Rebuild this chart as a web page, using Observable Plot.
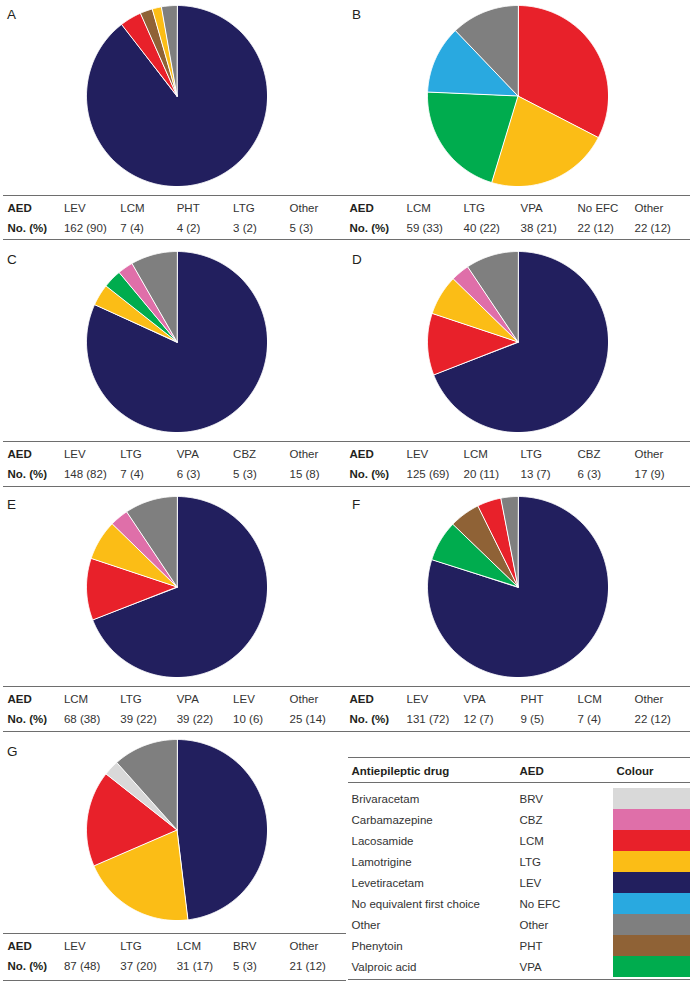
<!DOCTYPE html>
<html>
<head>
<meta charset="utf-8">
<script src="https://cdn.jsdelivr.net/npm/d3@7"></script>
<script src="https://cdn.jsdelivr.net/npm/@observablehq/plot@0.6"></script>
<style>
html,body{margin:0;padding:0;background:#fff;}
#page{position:relative;width:690px;height:982px;font-family:"Liberation Sans",Arial,Helvetica,sans-serif;color:#231f20;overflow:hidden;background:#fff;}
.abs{position:absolute;}
.hline{position:absolute;height:0;border-top:1.5px solid #6e6e6e;}
.letter{position:absolute;font-size:13.5px;line-height:1;}
</style>
</head>
<body>
<div id="page"></div>
<script>
// ---------------- DATA ----------------
const drugNames = ["Brivaracetam","Carbamazepine","Lacosamide","Lamotrigine","Levetiracetam","No equivalent first choice","Other","Phenytoin","Valproic acid"];
const drugAbbr = ["BRV","CBZ","LCM","LTG","LEV","No EFC","Other","PHT","VPA"];
const drugColours = ["#d9d9d9","#df6fa9","#e8212a","#fbbd16","#221f5e","#29a9e0","#7f7f7f","#8f6236","#00ac4e"];

const panelLetters = ["A","B","C","D","E","F","G"];

const aedA = ["LEV","LCM","PHT","LTG","Other"];
const countA = [162,7,4,3,5];
const pctA = [90,4,2,2,3];

const aedB = ["LCM","LTG","VPA","No EFC","Other"];
const countB = [59,40,38,22,22];
const pctB = [33,22,21,12,12];

const aedC = ["LEV","LTG","VPA","CBZ","Other"];
const countC = [148,7,6,5,15];
const pctC = [82,4,3,3,8];

const aedD = ["LEV","LCM","LTG","CBZ","Other"];
const countD = [125,20,13,6,17];
const pctD = [69,11,7,3,9];

const aedE = ["LCM","LTG","VPA","LEV","Other"];
const countE = [68,39,39,10,25];
const pctE = [38,22,22,6,14];

const aedF = ["LEV","VPA","PHT","LCM","Other"];
const countF = [131,12,9,7,22];
const pctF = [72,7,5,4,12];

const aedG = ["LEV","LTG","LCM","BRV","Other"];
const countG = [87,37,31,5,21];
const pctG = [48,20,17,3,12];

// Slices as they are drawn in the figure (pie E shows the D split; pie F has a small grey slice)
const sliceAedE = ["LEV","LCM","LTG","CBZ","Other"];
const sliceValE = [125,20,13,6,17];
const sliceValF = [131,12,9,7,5];

// ---------------- LAYOUT ----------------
const W = 690;
const rowTableTop = [196, 442, 687, 934];
const rowTableBottom = [240, 487, 732, 981];
const rowPieCy = [95, 341.5, 586.5, 829];
const rowLetterY = [15, 260, 505, 752];
const sideX = [0, 345];
const pieCx = [176, 517];
const pieR = 90.5;
const tableColRange = [[7, 289], [4, 289]];
const legendColX = [3, 171, 265, 342];
const legendLeft = 348, legendTop = 758, legendHeaderBottom = 783, legendBottom = 980;
const FONT = '"Liberation Sans", Arial, Helvetica, sans-serif';
const FS = 11.5;
const INK = "#231f20";

const page = document.getElementById("page");
function place(el, left, top) {
  const d = document.createElement("div");
  d.className = "abs";
  d.style.left = left + "px";
  d.style.top = top + "px";
  d.appendChild(el);
  page.appendChild(d);
}
function hline(left, width, y) {
  const d = document.createElement("div");
  d.className = "hline";
  d.style.left = left + "px";
  d.style.width = width + "px";
  d.style.top = (y - 0.75) + "px";
  page.appendChild(d);
}
function letter(t, left, cy) {
  const d = document.createElement("div");
  d.className = "letter";
  d.textContent = t;
  d.style.left = left + "px";
  d.style.top = (cy - 7.5) + "px";
  page.appendChild(d);
}

const colorScale = {type: "ordinal", domain: drugAbbr, range: drugColours};

function piePlot(aeds, values) {
  const arcs = d3.pie().sort(null).value(d => d.v)(aeds.map((a, i) => ({a, v: values[i]})));
  const features = arcs.map(arc => {
    const pts = [[0, 0]];
    const span = arc.endAngle - arc.startAngle;
    const n = Math.max(2, Math.ceil(span / (Math.PI / 360)));
    for (let k = 0; k <= n; k++) {
      const t = arc.startAngle + span * k / n;
      pts.push([Math.sin(t), -Math.cos(t)]);
    }
    pts.push([0, 0]);
    return {type: "Feature", properties: {aed: arc.data.a}, geometry: {type: "Polygon", coordinates: [pts]}};
  });
  const circle = {type: "Polygon", coordinates: [d3.range(0, 361, 1).map(d => [Math.sin(d * Math.PI / 180), -Math.cos(d * Math.PI / 180)])]};
  return Plot.plot({
    width: 2 * pieR, height: 2 * pieR, margin: 0,
    style: {background: "transparent"},
    projection: {type: "identity", domain: circle},
    color: colorScale,
    marks: [Plot.geo(features, {fill: d => d.properties.aed, stroke: "white", strokeWidth: 1})]
  });
}

function tablePlot(aeds, counts, pcts, xRange) {
  const cells = [];
  ["AED", ...aeds].forEach((t, i) => cells.push({col: i, row: "AED", text: t}));
  ["No. (%)", ...counts.map((c, i) => `${c} (${pcts[i]})`)].forEach((t, i) => cells.push({col: i, row: "No. (%)", text: t}));
  return Plot.plot({
    width: 345, height: 44, margin: 0,
    style: {fontFamily: FONT, fontSize: FS + "px", color: INK, background: "transparent"},
    x: {type: "linear", domain: [0, 5], range: xRange, axis: null},
    y: {type: "band", domain: ["AED", "No. (%)"], range: [2, 42], padding: 0, axis: null},
    marks: [
      Plot.text(cells.filter(d => d.col === 0), {x: "col", y: "row", text: "text", textAnchor: "start", fontWeight: "bold", fontSize: FS, fill: INK}),
      Plot.text(cells.filter(d => d.col > 0), {x: "col", y: "row", text: "text", textAnchor: "start", fontSize: FS, fill: "#333"})
    ]
  });
}

const panels = [
  {aed: aedA, count: countA, pct: pctA, sAed: aedA, sVal: countA},
  {aed: aedB, count: countB, pct: pctB, sAed: aedB, sVal: countB},
  {aed: aedC, count: countC, pct: pctC, sAed: aedC, sVal: countC},
  {aed: aedD, count: countD, pct: pctD, sAed: aedD, sVal: countD},
  {aed: aedE, count: countE, pct: pctE, sAed: sliceAedE, sVal: sliceValE},
  {aed: aedF, count: countF, pct: pctF, sAed: aedF, sVal: sliceValF},
  {aed: aedG, count: countG, pct: pctG, sAed: aedG, sVal: countG}
];

panels.forEach((p, i) => {
  const row = Math.floor(i / 2), side = i % 2;
  letter(panelLetters[i], sideX[side] + 7, rowLetterY[row]);
  place(piePlot(p.sAed, p.sVal), pieCx[side] - pieR, rowPieCy[row] - pieR);
  place(tablePlot(p.aed, p.count, p.pct, tableColRange[side]), sideX[side], rowTableTop[row]);
});

// table rules
for (let r = 0; r < 3; r++) {
  hline(3, W - 3, rowTableTop[r]);
  hline(3, W - 3, rowTableBottom[r]);
}
hline(3, 343, rowTableTop[3]);
hline(3, 343, rowTableBottom[3]);

// ---------------- LEGEND TABLE ----------------
const legendX = {type: "linear", domain: [0, 342], range: [0, 342], axis: null};
const headerCells = ["Antiepileptic drug", "AED", "Colour"].map((t, i) => ({text: t, col: i}));
const headerPlot = Plot.plot({
  width: 342, height: legendHeaderBottom - legendTop, margin: 0,
  style: {fontFamily: FONT, fontSize: FS + "px", color: INK, background: "transparent"},
  x: legendX,
  marks: [
    Plot.text(headerCells, {x: d => legendColX[d.col] + (d.col === 2 ? 3 : 0), text: "text", textAnchor: "start", fontWeight: "bold", fontSize: FS, fill: INK})
  ]
});
place(headerPlot, legendLeft, legendTop);

const legendRows = drugNames.map((n, i) => ({name: n, abbr: drugAbbr[i]}));
const bodyTop = legendHeaderBottom + 1;
const bodyPlot = Plot.plot({
  width: 342, height: legendBottom - bodyTop, margin: 0,
  style: {fontFamily: FONT, fontSize: FS + "px", color: INK, background: "transparent"},
  x: legendX,
  y: {type: "band", domain: drugNames, padding: 0, axis: null},
  color: colorScale,
  marks: [
    Plot.barX(legendRows, {x1: () => legendColX[2], x2: () => legendColX[3], y: "name", fill: "abbr", inset: 0}),
    Plot.text(legendRows, {x: () => legendColX[0], y: "name", text: "name", textAnchor: "start", fontSize: FS, fill: "#333"}),
    Plot.text(legendRows, {x: () => legendColX[1], y: "name", text: "abbr", textAnchor: "start", fontSize: FS, fill: "#333"})
  ]
});
place(bodyPlot, legendLeft, bodyTop);

hline(legendLeft, W - legendLeft, legendTop);
hline(legendLeft, W - legendLeft, legendHeaderBottom);
hline(legendLeft, W - legendLeft, legendBottom);
</script>
</body>
</html>
